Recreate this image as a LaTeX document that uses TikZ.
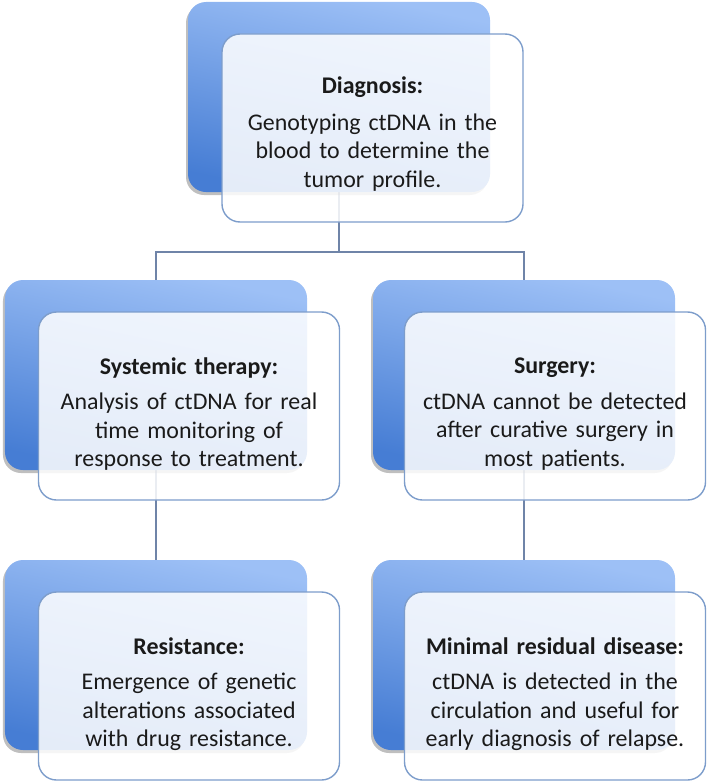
\documentclass[tikz,border=0pt]{standalone}
\usepackage{fontspec}
\setmainfont{Carlito}
\usetikzlibrary{shadows,backgrounds}
\definecolor{backtop}{HTML}{9DC0F6}
\definecolor{backbot}{HTML}{467DD4}
\definecolor{frontdraw}{HTML}{7D9DCB}
\definecolor{conn}{HTML}{6F84A8}
\definecolor{txt}{HTML}{1A1A1A}
\tikzset{
  backbox/.style={rectangle, rounded corners=18bp, minimum width=302bp, minimum height=190bp,
    top color=backtop, bottom color=backbot, shading angle=-12,
    drop shadow={shadow xshift=-2bp, shadow yshift=-3bp, opacity=0.25, fill=black}},
  frontbox/.style={rectangle, rounded corners=18bp, minimum width=301bp, minimum height=188bp,
    fill=white, fill opacity=0.86, draw=frontdraw, line width=1.4bp},
  boxtext/.style={text width=296bp, align=center, font=\fontsize{24}{28.5}\selectfont, text=txt},
  connector/.style={draw=conn, line width=1.5bp},
}
\begin{document}
\begin{tikzpicture}[x=1bp,y=-1bp]
\useasboundingbox (0,0) rectangle (709,784);
% back boxes
\node[backbox] (dB) at (339,97) {};
\node[backbox] (sB) at (156,375) {};
\node[backbox] (uB) at (524,375) {};
\node[backbox] (rB) at (156,655) {};
\node[backbox] (mB) at (524,655) {};
\coordinate (j) at (339,252);
% connectors behind
\begin{scope}[on background layer]
\draw[connector] (dB.center) -- (dB.center |- j) -| (sB.center);
\draw[connector] (dB.center |- j) -| (uB.center);
\draw[connector] (sB.center) -- (rB.center);
\draw[connector] (uB.center) -- (mB.center);
\end{scope}
% front boxes
\node[frontbox] (dF) at (372.5,128) {};
\node[frontbox] (sF) at (189,406) {};
\node[frontbox] (uF) at (555,406) {};
\node[frontbox] (rF) at (189,686) {};
\node[frontbox] (mF) at (555,686) {};
% texts
\node[boxtext] (dT) at (372.5,134) {\textbf{Diagnosis:}\\[8bp]Genotyping ctDNA in the\\blood to determine the\\tumor profile.};
\node[boxtext] (sT) at (189,414) {\textbf{Systemic therapy:}\\[7bp]Analysis of ctDNA for real\\time monitoring of\\response to treatment.};
\node[boxtext] (uT) at (555,414) {\textbf{Surgery:}\\[7bp]ctDNA cannot be detected\\after curative surgery in\\most patients.};
\node[boxtext] (rT) at (189,694) {\textbf{Resistance:}\\[7bp]Emergence of genetic\\alterations associated\\with drug resistance.};
\node[boxtext] (mT) at (555,694) {\textbf{Minimal residual disease:}\\[7bp]ctDNA is detected in the\\circulation and useful for\\early diagnosis of relapse.};
\end{tikzpicture}
\end{document}
